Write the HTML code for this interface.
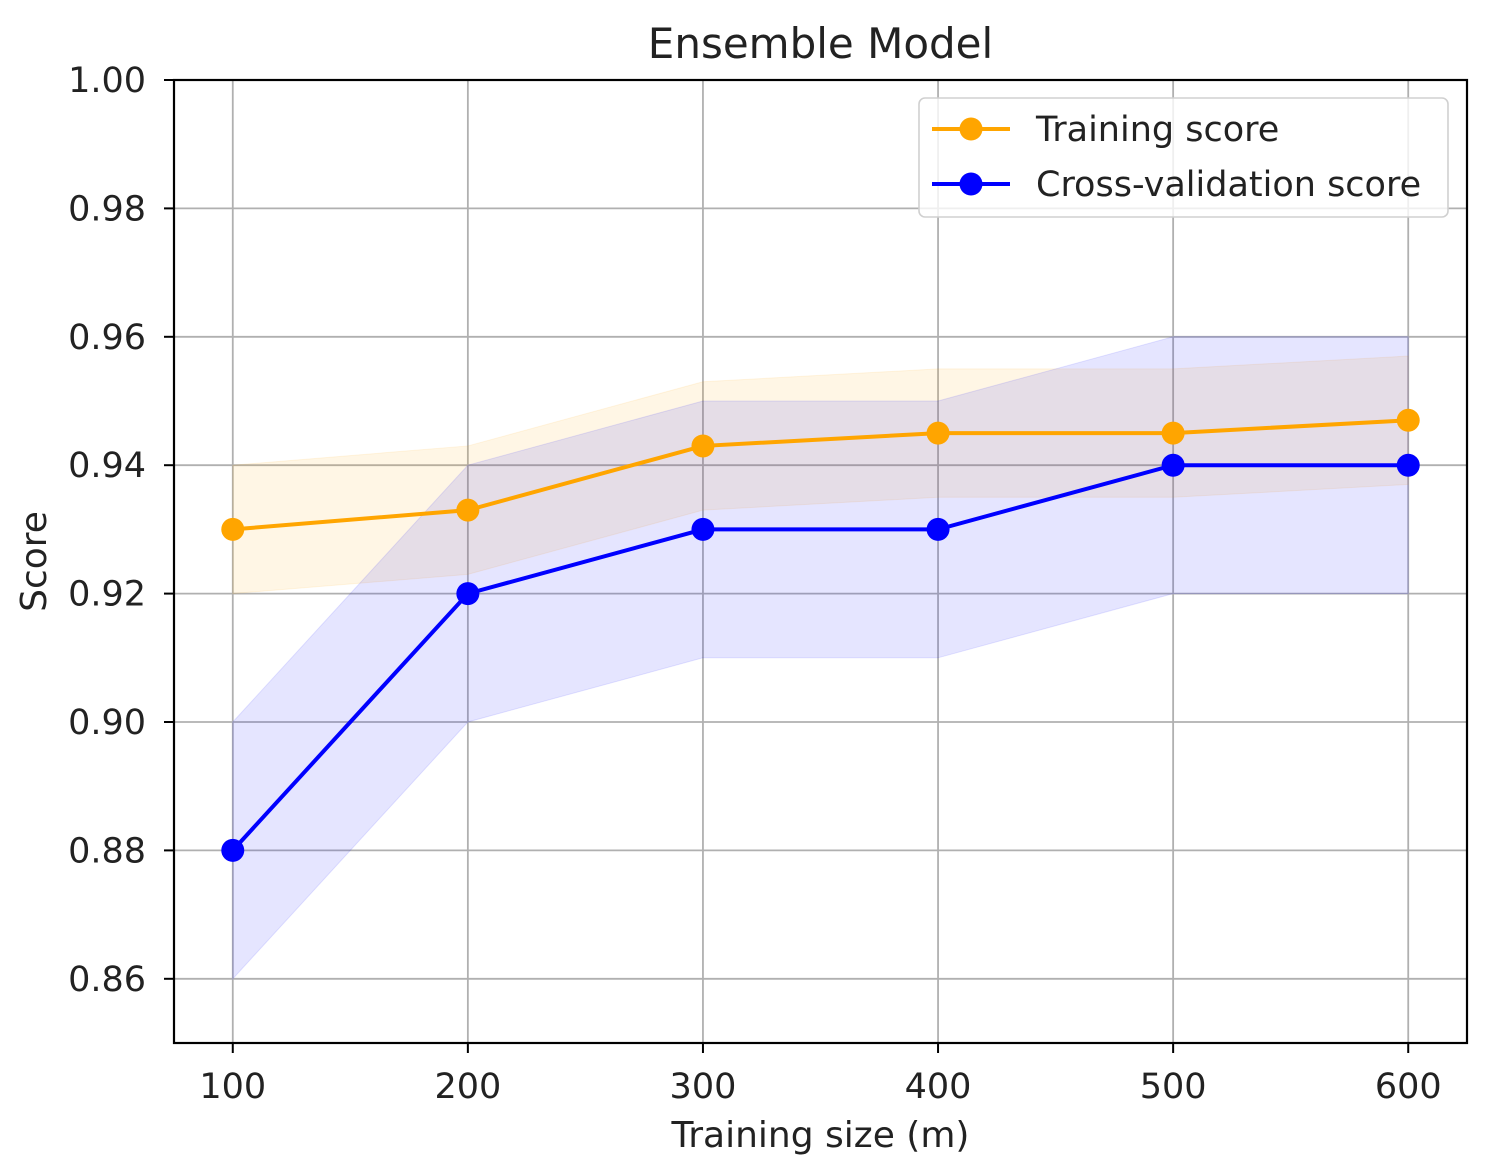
<!DOCTYPE html>
<html><head><meta charset="utf-8"><style>
html,body{margin:0;padding:0;background:#fff;}
svg{display:block;font-family:"DejaVu Sans","Liberation Sans",sans-serif;}
</style></head><body>
<svg id="chart" width="1492" height="1174" viewBox="0 0 1492 1174"></svg>
<script>
const sizes = [100, 200, 300, 400, 500, 600];
const trainScore = [0.930, 0.933, 0.943, 0.945, 0.945, 0.947];
const trainUpper = [0.940, 0.943, 0.953, 0.955, 0.955, 0.957];
const trainLower = [0.920, 0.923, 0.933, 0.935, 0.935, 0.937];
const cvScore = [0.88, 0.92, 0.93, 0.93, 0.94, 0.94];
const cvUpper = [0.90, 0.94, 0.95, 0.95, 0.96, 0.96];
const cvLower = [0.86, 0.90, 0.91, 0.91, 0.92, 0.92];
const xTicks = [100, 200, 300, 400, 500, 600];
const yTicks = [0.86, 0.88, 0.90, 0.92, 0.94, 0.96, 0.98, 1.00];

const L=174, R=1467, T=80, B=1043;
const xMin=75, xMax=625, yMin=0.85, yMax=1.00;
const xs = v => L + (v-xMin)/(xMax-xMin)*(R-L);
const ys = v => B - (v-yMin)/(yMax-yMin)*(B-T);
const svg = document.getElementById('chart');
const NS='http://www.w3.org/2000/svg';
function mk(tag, attrs, parent){const e=document.createElementNS(NS,tag);for(const k in attrs)e.setAttribute(k,attrs[k]);(parent||svg).appendChild(e);return e;}

const grid = mk('g',{});


xTicks.forEach(v=>{mk('line',{x1:xs(v),x2:xs(v),y1:T,y2:B,stroke:'#b0b0b0','stroke-width':1.8},grid);});
yTicks.forEach(v=>{mk('line',{x1:L,x2:R,y1:ys(v),y2:ys(v),stroke:'#b0b0b0','stroke-width':1.8},grid);});

function band(up, lo, color, name){
  let d = sizes.map((s,i)=>(i?'L':'M')+xs(s)+','+ys(up[i])).join(' ');
  for(let i=sizes.length-1;i>=0;i--) d+=' L'+xs(sizes[i])+','+ys(lo[i]);
  const p = mk('path',{d:d+' Z',fill:color,'fill-opacity':0.1,stroke:color,'stroke-opacity':0.1});
  
  
}
band(trainUpper, trainLower, '#ffa500', 'training-score-band');
band(cvUpper, cvLower, '#0000ff', 'cv-score-band');

function series(vals, color, name){
  const g = mk('g',{});
  
  
  mk('polyline',{points:sizes.map((s,i)=>xs(s)+','+ys(vals[i])).join(' '),fill:'none',stroke:color,'stroke-width':4},g);
  sizes.forEach((s,i)=>{
    const c = mk('circle',{cx:xs(s),cy:ys(vals[i]),r:11.5,fill:color},g);
    
    
  });
}
series(trainScore,'#ffa500','training-score-line');
series(cvScore,'#0000ff','cv-score-line');

const frame = mk('rect',{x:L,y:T,width:R-L,height:B-T,fill:'none',stroke:'#000','stroke-width':2.2});



xTicks.forEach(v=>{
  mk('line',{x1:xs(v),x2:xs(v),y1:B,y2:B+10,stroke:'#000','stroke-width':2});
  const t = mk('text',{x:xs(v),y:B+55,'text-anchor':'middle','font-size':35,fill:'#222'});
  t.textContent = v;
  
  
});
yTicks.forEach(v=>{
  mk('line',{x1:L-10,x2:L,y1:ys(v),y2:ys(v),stroke:'#000','stroke-width':2});
  const t = mk('text',{x:L-28,y:ys(v)+12,'text-anchor':'end','font-size':35,fill:'#222'});
  t.textContent = v.toFixed(2);
  
  
});

const title = mk('text',{x:(L+R)/2,y:58,'text-anchor':'middle','font-size':42,fill:'#222'});
title.textContent='Ensemble Model';


const xl = mk('text',{x:(L+R)/2,y:1147,'text-anchor':'middle','font-size':36,fill:'#222'});
xl.textContent='Training size (m)';


const yl = mk('text',{x:0,y:0,'text-anchor':'middle','font-size':36,fill:'#222',transform:'translate(46,'+((T+B)/2)+') rotate(-90)'});
yl.textContent='Score';



const lg = mk('g',{});


mk('rect',{x:919,y:98,width:529,height:119,rx:6,fill:'#fff','fill-opacity':0.8,stroke:'#d0d0d0','stroke-width':1.6},lg);
[['Training score','#ffa500',129],['Cross-validation score','#0000ff',184]].forEach(([lab,col,y])=>{
  const e = mk('g',{},lg);
  
  
  mk('line',{x1:932,x2:1010,y1:y,y2:y,stroke:col,'stroke-width':4},e);
  mk('circle',{cx:971,cy:y,r:11.5,fill:col},e);
  const t = mk('text',{x:1036,y:y+12,'font-size':35,fill:'#222'},e);
  t.textContent=lab;
});
</script>
</body></html>
